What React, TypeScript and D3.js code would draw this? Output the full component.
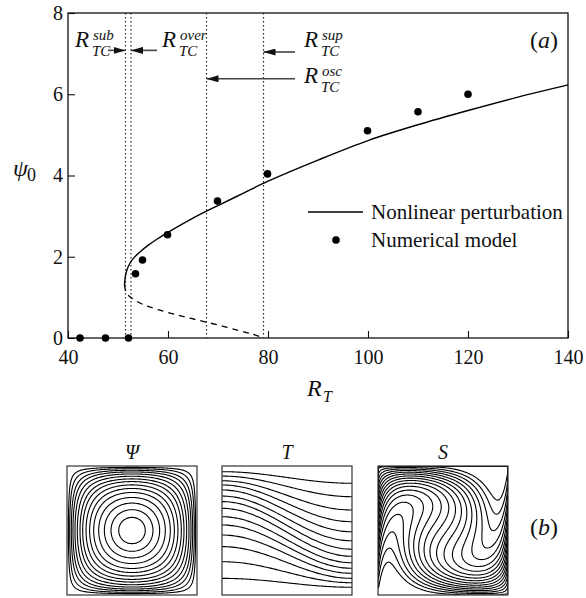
import React, { useEffect, useRef } from 'react';
import * as d3 from 'd3';

// ---- panel (a) data ----
const numericalR = [42.4, 47.5, 52.1, 53.5, 54.9, 59.9, 69.9, 79.9, 99.9, 110, 120];
const numericalPsi = [0, 0, 0, 1.58, 1.92, 2.54, 3.37, 4.04, 5.1, 5.57, 6.0];

const stableR = [51.3, 51.45, 51.8, 52.4, 53.3, 54.5, 56, 58, 60, 65, 70, 75, 80, 90, 100, 110, 120, 130, 140];
const stablePsi = [1.3, 1.5, 1.68, 1.84, 1.99, 2.13, 2.28, 2.45, 2.6, 2.95, 3.26, 3.56, 3.86, 4.38, 4.86, 5.25, 5.6, 5.93, 6.23];

const unstableR = [51.3, 51.7, 52.8, 55.1, 58, 62, 66, 70, 74, 77, 79.1];
const unstablePsi = [1.3, 1.1, 0.98, 0.82, 0.7, 0.56, 0.44, 0.32, 0.19, 0.09, 0];

// sub, over, osc, sup
const criticalR = [51.5, 52.6, 67.7, 79.1];
const arrowFromR = [48, 57.8, 85.4, 85.4];
const arrowToR = [51.5, 52.6, 79.1, 67.7];
const arrowPsi = [7.08, 7.08, 7.04, 6.38];

const xMajor = [40, 60, 80, 100, 120, 140];
const xMinor = d3.range(40, 141, 5);
const yMajor = [0, 2, 4, 6, 8];
const yMinor = d3.range(0, 8.01, 0.5);

// ---- panel (b) fields ----
const panelTitles = ['Ψ', 'T', 'S'];
const psiLevels = [0.034, 0.065, 0.104, 0.144, 0.192, 0.247, 0.309, 0.37, 0.444, 0.52, 0.601, 0.693, 0.785, 0.874, 0.949];
// isotherm heights (fraction of box from top) at left and right wall
const tLeft = [0.044, 0.078, 0.114, 0.147, 0.186, 0.233, 0.276, 0.328, 0.393, 0.457, 0.535, 0.625, 0.742, 0.871];
const tRight = [0.134, 0.238, 0.341, 0.432, 0.51, 0.58, 0.645, 0.7, 0.75, 0.793, 0.832, 0.871, 0.905, 0.94];
const sLevels = [0.03, 0.085, 0.14, 0.195, 0.25, 0.305, 0.36, 0.415, 0.47, 0.525, 0.58, 0.635, 0.69, 0.745, 0.8, 0.855, 0.91, 0.965];
// salinity: stratification wound up clockwise by the cell (radians at centre, falloff power)
const sTwist = { angle: 2.2, power: 0.6 };

const font = 'Liberation Serif, Times New Roman, serif';

export default function App() {
  const ref = useRef<SVGSVGElement>(null);

  useEffect(() => {
    const svg = d3.select(ref.current);
    svg.selectAll('*').remove();

    const x = d3.scaleLinear().domain([40, 140]).range([68, 568]);
    const y = d3.scaleLinear().domain([0, 8]).range([338, 13]);

    const defs = svg.append('defs');
    defs.append('marker')
      .attr('id', 'head').attr('viewBox', '0 0 12 7').attr('refX', 12).attr('refY', 3.5)
      .attr('markerWidth', 12).attr('markerHeight', 7).attr('markerUnits', 'userSpaceOnUse')
      .attr('orient', 'auto')
      .append('path').attr('d', 'M0,0L12,3.5L0,7Z').attr('fill', '#111');

    const g = svg.append('g');

    // ticks (inward) and labels
    const bx = g.append('g').attr('transform', `translate(0,${y(0)})`);
    bx.call(d3.axisBottom(x).tickValues(xMinor).tickSize(-3.5).tickFormat(() => ''));
    bx.call(d3.axisBottom(x).tickValues(xMajor).tickSize(-7).tickPadding(12));
    const ly = g.append('g').attr('transform', `translate(${x(40)},0)`);
    ly.call(d3.axisLeft(y).tickValues(yMinor).tickSize(-3.5).tickFormat(() => ''));
    ly.call(d3.axisLeft(y).tickValues(yMajor).tickSize(-7).tickPadding(5));
    [bx, ly].forEach(ax => {
      ax.attr('font-family', null).attr('font-size', null).attr('color', '#111');
      ax.style('font-family', font).style('font-size', '20px');
      ax.selectAll('.domain').remove();
      ax.selectAll('line').attr('stroke-width', 1.1);
    });

    g.append('rect').attr('x', x(40)).attr('y', y(8)).attr('width', x(140) - x(40)).attr('height', y(0) - y(8))
      .attr('fill', 'none').attr('stroke', '#111').attr('stroke-width', 1.3);

    // critical values
    g.selectAll('.crit').data(criticalR).enter().append('line')
      .attr('x1', d => x(d)).attr('x2', d => x(d)).attr('y1', y(8)).attr('y2', y(0))
      .attr('stroke', '#222').attr('stroke-width', 1.2).attr('stroke-dasharray', '1.5,2.5');

    const line = d3.line<[number, number]>().x(d => x(d[0])).y(d => y(d[1])).curve(d3.curveCatmullRom.alpha(0.5));
    g.append('path').attr('d', line(stableR.map((r, i) => [r, stablePsi[i]])))
      .attr('fill', 'none').attr('stroke', '#000').attr('stroke-width', 1.4);
    g.append('path').attr('d', line(unstableR.map((r, i) => [r, unstablePsi[i]])))
      .attr('fill', 'none').attr('stroke', '#000').attr('stroke-width', 1.3).attr('stroke-dasharray', '6,5');

    g.selectAll('.dot').data(numericalR).enter().append('circle')
      .attr('cx', d => x(d)).attr('cy', (d, i) => y(numericalPsi[i])).attr('r', 3.8).attr('fill', '#000');

    // arrows
    arrowFromR.forEach((r, i) => {
      g.append('line').attr('x1', x(r)).attr('x2', x(arrowToR[i])).attr('y1', y(arrowPsi[i])).attr('y2', y(arrowPsi[i]))
        .attr('stroke', '#444').attr('stroke-width', 1.6).attr('marker-end', 'url(#head)');
    });

    const txt = (sel: any) => sel.style('font-family', font).attr('fill', '#111');

    const rLabel = (px: number, base: number, sup: string) => {
      const t = g.append('g').call(txt).attr('font-style', 'italic');
      t.append('text').attr('x', px).attr('y', base).attr('font-size', 23).text('R');
      t.append('text').attr('x', px + 18).attr('y', base - 7).attr('font-size', 15).text(sup);
      t.append('text').attr('x', px + 17).attr('y', base + 9).attr('font-size', 15).text('TC');
    };
    rLabel(75, 47, 'sub');
    rLabel(162, 47, 'over');
    rLabel(304, 47, 'sup');
    rLabel(304, 83, 'osc');

    const tag = (px: number, base: number, letter: string) => {
      const t = g.append('text').call(txt).attr('x', px).attr('y', base).attr('font-size', 24)
        .attr('text-anchor', 'end');
      t.append('tspan').text('(');
      t.append('tspan').attr('font-style', 'italic').text(letter);
      t.append('tspan').text(')');
    };
    tag(558, 48, 'a');

    // legend
    g.append('line').attr('x1', 308).attr('x2', 363).attr('y1', 212).attr('y2', 212).attr('stroke', '#000').attr('stroke-width', 1.4);
    g.append('circle').attr('cx', 336).attr('cy', 240).attr('r', 3.8).attr('fill', '#000');
    g.append('text').call(txt).attr('x', 371).attr('y', 219).attr('font-size', 21).text('Nonlinear perturbation');
    g.append('text').call(txt).attr('x', 371).attr('y', 247).attr('font-size', 21).text('Numerical model');

    // axis titles
    g.append('text').call(txt).attr('x', 13).attr('y', 176).attr('font-size', 24).attr('font-style', 'italic').text('ψ');
    g.append('text').call(txt).attr('x', 27).attr('y', 181).attr('font-size', 18).text('0');
    g.append('text').call(txt).attr('x', 307).attr('y', 396).attr('font-size', 24).attr('font-style', 'italic').text('R');
    g.append('text').call(txt).attr('x', 323).attr('y', 402).attr('font-size', 16).attr('font-style', 'italic').text('T');

    // ---- panel (b) ----
    const boxLeft = [67, 222, 378];
    const boxTop = 466, boxW = 130, boxH = 129;
    const n = 120;

    const contourPaths = (inner: any, bl: number, vals: number[], levels: number[]) => {
      const path = d3.geoPath(d3.geoIdentity().scale(boxW / n).translate([bl, boxTop]) as any);
      const cs = d3.contours().size([n, n]).thresholds(levels)(vals);
      inner.selectAll('path').data(cs).enter().append('path')
        .attr('d', (d: any) => path(d))
        .attr('transform', `translate(0,${boxTop}) scale(1,${boxH / boxW}) translate(0,${-boxTop})`)
        .attr('fill', 'none').attr('stroke', '#000').attr('stroke-width', 1.1);
    };

    boxLeft.forEach((bl, k) => {
      defs.append('clipPath').attr('id', `clip${k}`).append('rect')
        .attr('x', bl).attr('y', boxTop).attr('width', boxW).attr('height', boxH);
      const pg = svg.append('g');
      const inner = pg.append('g').attr('clip-path', `url(#clip${k})`);

      if (k === 0) {
        const vals: number[] = [];
        for (let j = 0; j < n; j++) for (let i = 0; i < n; i++) {
          const u = (i + 0.5) / n, v = (j + 0.5) / n;
          vals.push(Math.sin(Math.PI * u) * Math.sin(Math.PI * v));
        }
        contourPaths(inner, bl, vals, psiLevels);
      } else if (k === 1) {
        const sx = d3.scaleLinear().domain([0, 1]).range([bl, bl + boxW]);
        const sy = d3.scaleLinear().domain([0, 1]).range([boxTop, boxTop + boxH]);
        const us = d3.range(0, 1.0001, 0.02);
        const tl = d3.line<[number, number]>().x(d => sx(d[0])).y(d => sy(d[1])).curve(d3.curveBasis);
        tLeft.forEach((yl, i) => {
          const yr = tRight[i];
          const pts: [number, number][] = us.map(u => [u, yl + (yr - yl) * (1 - Math.cos(Math.PI * u)) / 2]);
          inner.append('path').attr('d', tl(pts)).attr('fill', 'none').attr('stroke', '#000').attr('stroke-width', 1.1);
        });
      } else {
        const vals: number[] = [];
        for (let j = 0; j < n; j++) for (let i = 0; i < n; i++) {
          const u = (i + 0.5) / n, yb = 1 - (j + 0.5) / n;
          const th = sTwist.angle * Math.pow(Math.sin(Math.PI * u) * Math.sin(Math.PI * yb), sTwist.power);
          vals.push(0.5 + (u - 0.5) * Math.sin(th) + (yb - 0.5) * Math.cos(th));
        }
        contourPaths(inner, bl, vals, sLevels);
      }

      pg.append('rect').attr('x', bl).attr('y', boxTop).attr('width', boxW).attr('height', boxH)
        .attr('fill', 'none').attr('stroke', '#333').attr('stroke-width', 1.2);
      pg.append('text').call(txt).attr('x', bl + boxW / 2).attr('y', 459).attr('text-anchor', 'middle')
        .attr('font-size', 20).attr('font-style', 'italic').text(panelTitles[k]);
    });

    tag(558, 535, 'b');
  }, []);

  return (
    <svg ref={ref} width={586} height={598}
      style={{ position: 'absolute', left: 0, top: 0, background: '#fff' }} />
  );
}
